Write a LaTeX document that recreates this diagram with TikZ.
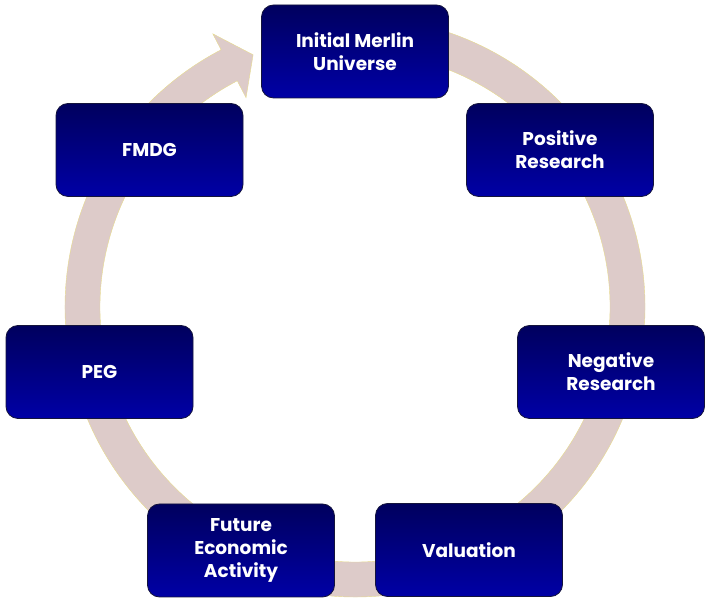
\documentclass[tikz,border=0pt]{standalone}
\usepackage{fontspec}
\setmainfont{Poppins}
\usetikzlibrary{calc}
\definecolor{ringfill}{HTML}{DDCBC9}
\definecolor{boxtop}{HTML}{00005E}
\definecolor{boxbot}{HTML}{0000A6}
\definecolor{boxedge}{HTML}{14143C}
\tikzset{
  stage/.style={rounded corners=12pt, minimum width=187pt, minimum height=93pt,
    top color=boxtop, bottom color=boxbot, draw=boxedge, line width=0.8pt,
    text=white, align=center, font=\fontsize{18.5}{23}\selectfont\bfseries},
  ring/.style={fill=ringfill, draw=ringfill!70!yellow, line width=0.4pt}
}
\begin{document}
\begin{tikzpicture}[x=1pt,y=1pt]
\useasboundingbox (0,0) rectangle (714,607);
\coordinate (C) at (355,300);
% cycle ring with arrowhead ending before the first stage
\fill[ring] ($(C)+(85:290)$) arc[start angle=85, end angle=-242.5, radius=290]
  -- ($(C)+(117.5:308)$) -- ($(C)+(112:272)$) -- ($(C)+(117.5:236)$)
  -- ($(C)+(117.5:255)$) arc[start angle=-242.5, end angle=85, radius=255] -- cycle;
% stages
\node[stage] (imu) at (355,555.5) {Initial Merlin\\Universe};
\node[stage] (pos) at (560,457) {Positive\\Research};
\node[stage] (neg) at (611,235) {Negative\\Research};
\node[stage] (val) at (469,57) {Valuation};
\node[stage] (fea) at (241,56.5) {Future\\Economic\\Activity};
\node[stage] (peg) at (99.5,235) {PEG};
\node[stage] (fmdg) at (149.5,457) {FMDG};
\end{tikzpicture}
\end{document}
